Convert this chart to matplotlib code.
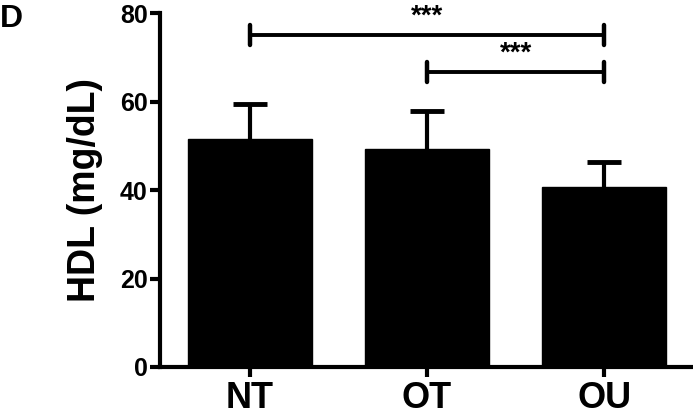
import matplotlib
matplotlib.use("Agg")
import matplotlib.pyplot as plt
import numpy as np

plt.rcParams['font.family'] = ['Liberation Sans', 'DejaVu Sans']

groups = ["NT", "OT", "OU"]
means = [51.5, 49.3, 40.7]
sd_up = [7.9, 8.6, 5.6]
y_ticks = [0, 20, 40, 60, 80]
sig_pairs = [(0, 2, 75.0, "***"), (1, 2, 66.7, "***")]

fig = plt.figure(figsize=(6.93, 4.13), dpi=100)
ax = fig.add_axes([0.2309, 0.1114, 0.7691, 0.857])

x = np.arange(len(groups))
ax.errorbar(x, means, yerr=sd_up, fmt="none",
            ecolor="black", elinewidth=3, capsize=12, capthick=3.5, zorder=1)
ax.bar(x, means, width=0.7, color="black", edgecolor="black", zorder=2)

for i, j, y, label in sig_pairs:
    ax.plot([i, j], [y, y], color="black", lw=2.8, solid_capstyle="butt", zorder=4)
    for xx in (i, j):
        ax.plot([xx, xx], [y - 2.2, y + 2.2], color="black", lw=3.2,
                solid_capstyle="round", zorder=4)
    ax.text((i + j) / 2, y + 1.2, label, ha="center", va="bottom",
            fontsize=20, fontweight="bold")

ax.set_xlim(-0.505, 2.5)
ax.set_ylim(0, 80)
ax.set_yticks(y_ticks)
ax.set_xticks(x)
ax.set_xticklabels(groups, fontsize=26, fontweight="bold")
ax.set_yticklabels([str(t) for t in y_ticks], fontsize=18, fontweight="bold")
ax.set_ylabel("HDL (mg/dL)", fontsize=27, fontweight="bold", labelpad=12)

for s in ("top", "right"):
    ax.spines[s].set_visible(False)
for s in ("left", "bottom"):
    ax.spines[s].set_linewidth(3)
ax.tick_params(axis="both", width=3, length=7)
ax.tick_params(axis="x", pad=3)
ax.tick_params(axis="y", pad=2)

fig.text(0.0, 0.99, "D", fontsize=23, fontweight="bold", ha="left", va="top")

fig.savefig("out.png", dpi=100)
